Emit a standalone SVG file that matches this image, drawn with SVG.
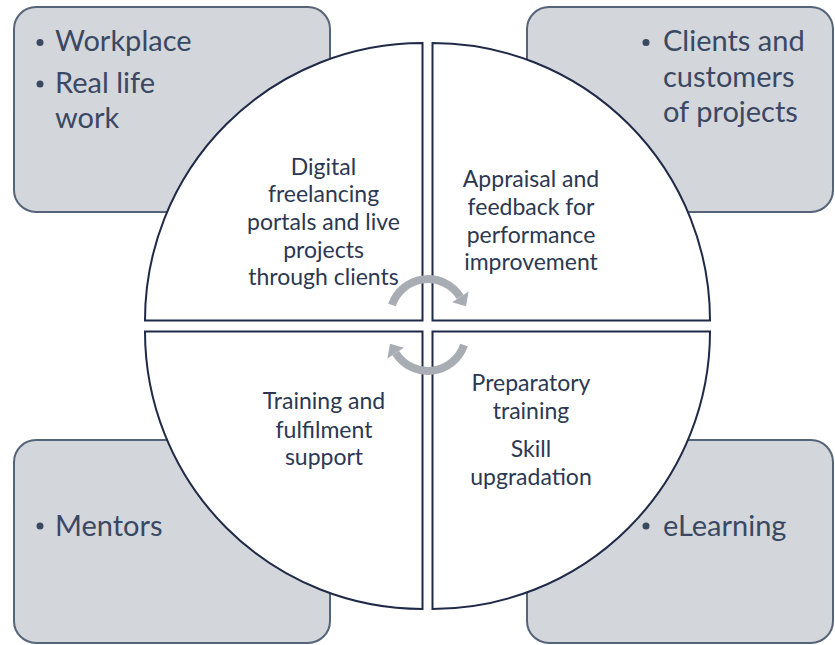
<svg xmlns="http://www.w3.org/2000/svg" width="835" height="645" viewBox="0 0 835 645">
<style>
.box{fill:#d3d6da;stroke:#56647a;stroke-width:2}
.quad{fill:#ffffff;stroke:#1f2a48;stroke-width:2}
.bt{font-family:Lato,"Open Sans",sans-serif;font-size:29px;fill:#3b4862}
.ct{font-family:Lato,"Open Sans",sans-serif;font-size:23px;fill:#2c3852;text-anchor:middle}
.dot{fill:#3b4862}
.arc{fill:none;stroke:#a8adb4;stroke-width:8}
.head{fill:#a8adb4}
</style>
<rect width="835" height="645" fill="#ffffff"/>
<g id="box-workplace">
<rect class="box" x="14" y="7" width="316" height="205" rx="22"/>
<circle class="dot" cx="40" cy="42.5" r="3.5"/>
<text class="bt" x="55" y="51">Workplace</text>
<circle class="dot" cx="40" cy="84" r="3.5"/>
<text class="bt" x="55" y="93">Real life</text>
<text class="bt" x="55" y="128">work</text>
</g>
<g id="box-clients">
<rect class="box" x="527" y="7" width="306" height="205" rx="22"/>
<circle class="dot" cx="646" cy="42.5" r="3.5"/>
<text class="bt" x="663" y="51">Clients and</text>
<text class="bt" x="663" y="87">customers</text>
<text class="bt" x="663" y="122">of projects</text>
</g>
<g id="box-mentors">
<rect class="box" x="14" y="440" width="316" height="203" rx="22"/>
<circle class="dot" cx="40" cy="526" r="3.5"/>
<text class="bt" x="55" y="536">Mentors</text>
</g>
<g id="box-elearning">
<rect class="box" x="527" y="440" width="306" height="203" rx="22"/>
<circle class="dot" cx="646" cy="526" r="3.5"/>
<text class="bt" x="663" y="536">eLearning</text>
</g>
<g id="quad-digital">
<path class="quad" d="M422.5,320.5 L422.5,43 A277.5,277.5 0 0 0 145,320.5 Z"/>
<text class="ct" x="323.5" y="174.5">Digital</text>
<text class="ct" x="323.5" y="202">freelancing</text>
<text class="ct" x="323.5" y="229.5">portals and live</text>
<text class="ct" x="323.5" y="257.5">projects</text>
<text class="ct" x="323.5" y="284.5">through clients</text>
</g>
<g id="quad-appraisal">
<path class="quad" d="M432.5,320.5 L432.5,43 A277.5,277.5 0 0 1 710,320.5 Z"/>
<text class="ct" x="531" y="187">Appraisal and</text>
<text class="ct" x="531" y="215">feedback for</text>
<text class="ct" x="531" y="242.5">performance</text>
<text class="ct" x="531" y="270">improvement</text>
</g>
<g id="quad-training">
<path class="quad" d="M422.5,331.5 L422.5,609 A277.5,277.5 0 0 1 145,331.5 Z"/>
<text class="ct" x="324" y="409">Training and</text>
<text class="ct" x="324" y="437.5">fulfilment</text>
<text class="ct" x="324" y="464.5">support</text>
</g>
<g id="quad-preparatory">
<path class="quad" d="M432.5,331.5 L432.5,609 A277.5,277.5 0 0 0 710,331.5 Z"/>
<text class="ct" x="531" y="390.5">Preparatory</text>
<text class="ct" x="531" y="418.5">training</text>
<text class="ct" x="531" y="456.5">Skill</text>
<text class="ct" x="531" y="484.5">upgradation</text>
</g>
<g id="connectors">
<g id="cycle-top">
<path class="arc" d="M392,305 A38,38 0 0 1 460.2,296.9"/>
<polygon class="head" points="468.6,291.6 452.1,302.2 466,306.2"/>
</g>
<g id="cycle-bottom" transform="rotate(180 428 325)">
<path class="arc" d="M392,305 A38,38 0 0 1 460.2,296.9"/>
<polygon class="head" points="468.6,291.6 452.1,302.2 466,306.2"/>
</g>
</g>
</svg>
